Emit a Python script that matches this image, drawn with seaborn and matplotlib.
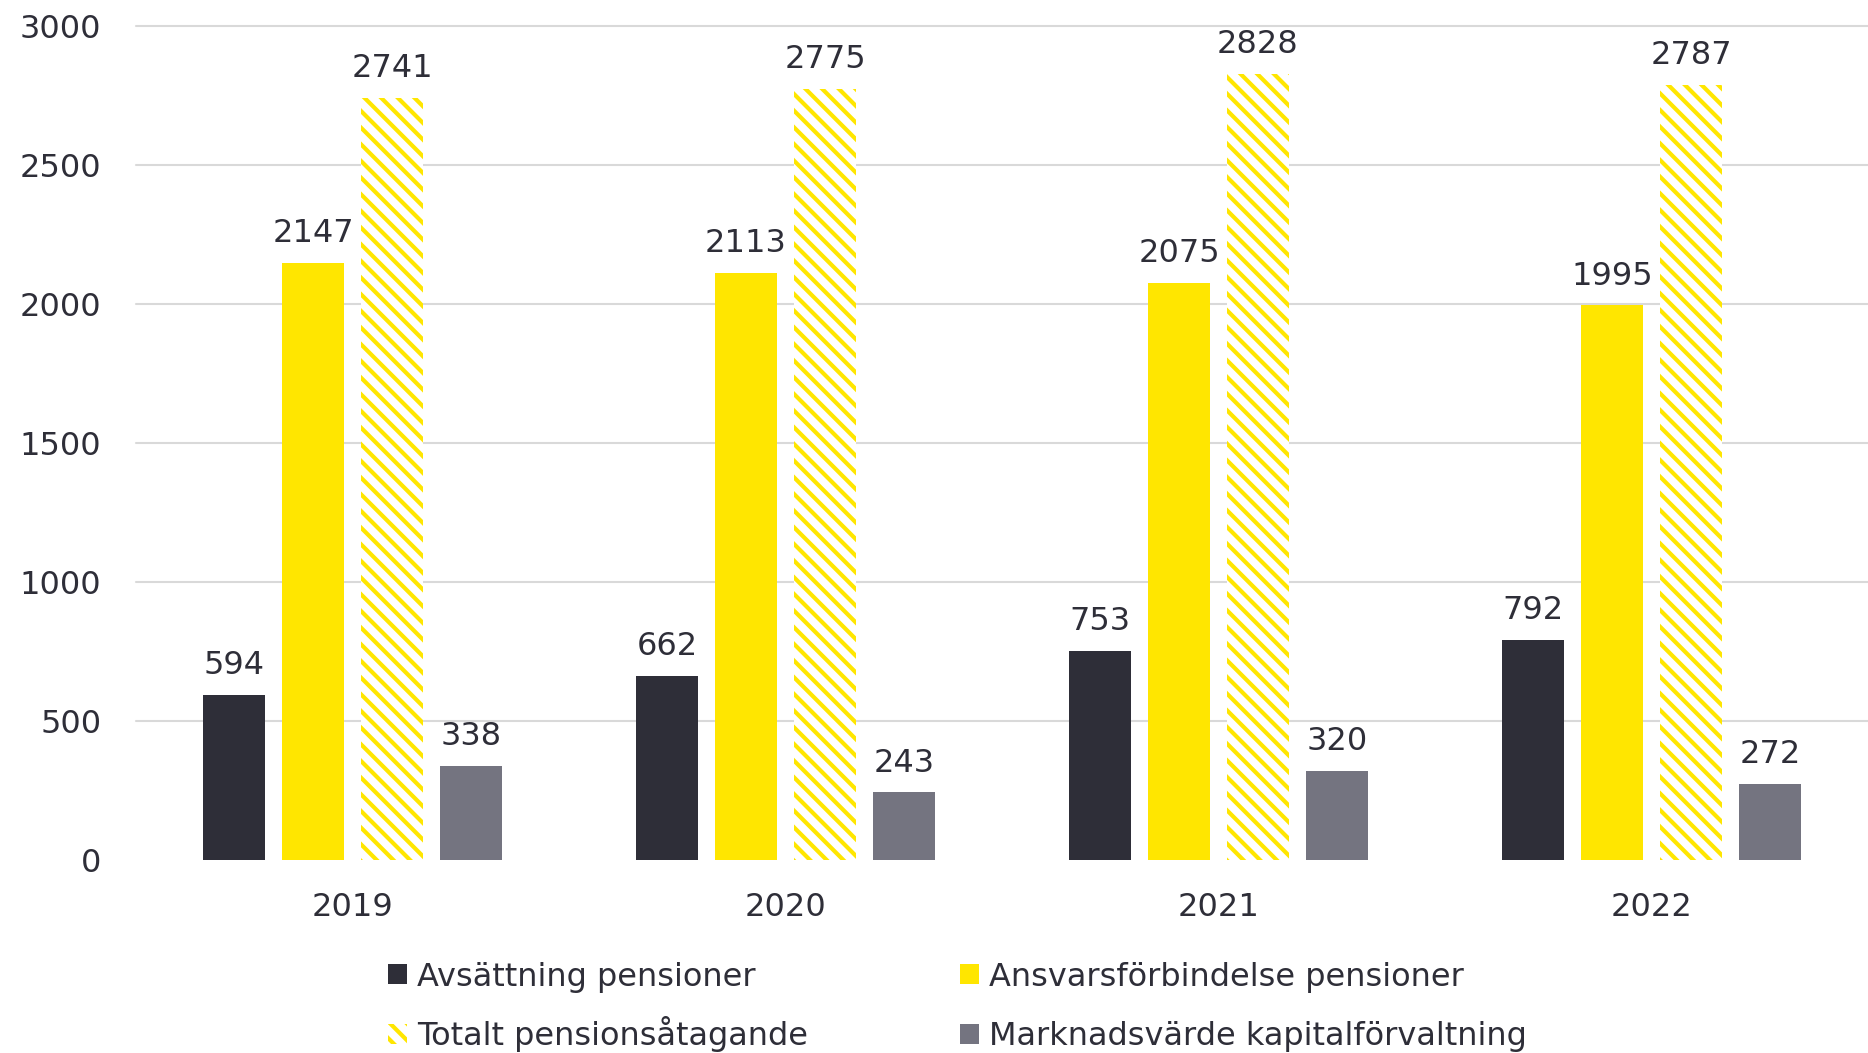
import matplotlib
matplotlib.use('Agg')
import matplotlib.pyplot as plt
from matplotlib.patches import Patch
import seaborn as sns
import pandas as pd

years = ['2019', '2020', '2021', '2022']
avsattning = [594, 662, 753, 792]
ansvar = [2147, 2113, 2075, 1995]
totalt = [2741, 2775, 2828, 2787]
marknad = [338, 243, 320, 272]

series = ['Avsättning pensioner', 'Ansvarsförbindelse pensioner',
          'Totalt pensionsåtagande', 'Marknadsvärde kapitalförvaltning']
colors = ['#2E2E38', '#FFE600', '#FFE600', '#747480']
text_color = '#2E2E38'

df = pd.DataFrame({
    'year': years * 4,
    'value': avsattning + ansvar + totalt + marknad,
    'serie': [s for s in series for _ in years],
})

sns.set_style('white')
plt.rcParams['font.family'] = ['DejaVu Sans']
plt.rcParams['hatch.linewidth'] = 3.0
fs = 23

fig = plt.figure(figsize=(18.68, 10.53), dpi=100)
ax = fig.add_axes([0.0728, 0.1833, 0.9272, 0.792])

sns.barplot(data=df, x='year', y='value', hue='serie', hue_order=series,
            palette=colors, width=0.729, gap=0.215, legend=False,
            saturation=1, ax=ax, linewidth=0)

# hatched bars for "Totalt"
for bar in ax.containers[2]:
    bar.set_facecolor('white')
    bar.set_edgecolor('#FFE600')
    bar.set_hatch('\\\\')
    bar.set_linewidth(0)

for cont in ax.containers:
    ax.bar_label(cont, fmt='%d', padding=10, fontsize=fs, color=text_color)

ax.set_ylim(0, 3000)
ax.set_xlim(-0.5, 3.5)
ax.set_yticks(range(0, 3001, 500))
ax.yaxis.grid(True, color='#D9D9D9', linewidth=1.5)
ax.set_axisbelow(True)
for gl in ax.get_ygridlines():
    gl.set_clip_on(False)
ax.get_ygridlines()[0].set_visible(False)
sns.despine(ax=ax, left=True, bottom=True)
ax.tick_params(axis='y', length=0, pad=25, labelsize=fs, labelcolor=text_color)
ax.tick_params(axis='x', length=0, pad=23, labelsize=fs, labelcolor=text_color)
ax.set_xlabel('')
ax.set_ylabel('')

handles = [
    Patch(facecolor=colors[0], linewidth=0),
    Patch(facecolor=colors[1], linewidth=0),
    Patch(facecolor='white', edgecolor='#FFE600', hatch='\\\\', linewidth=0),
    Patch(facecolor=colors[3], linewidth=0),
]
# one legend per entry so the baselines line up (å makes row 2 taller)
spots = [(0.2077, 0.0574), (0.5139, 0.0574), (0.2077, 0.001), (0.5139, 0.001)]
for h, lab, (lx, ly) in zip(handles, series, spots):
    leg = fig.legend([h], [lab], loc='lower left', bbox_to_anchor=(lx, ly),
                     frameon=False, fontsize=fs, labelcolor=text_color,
                     handlelength=0.6, handleheight=0.58, handletextpad=0.3,
                     borderpad=0, borderaxespad=0)

fig.savefig('out.png', dpi=100)
